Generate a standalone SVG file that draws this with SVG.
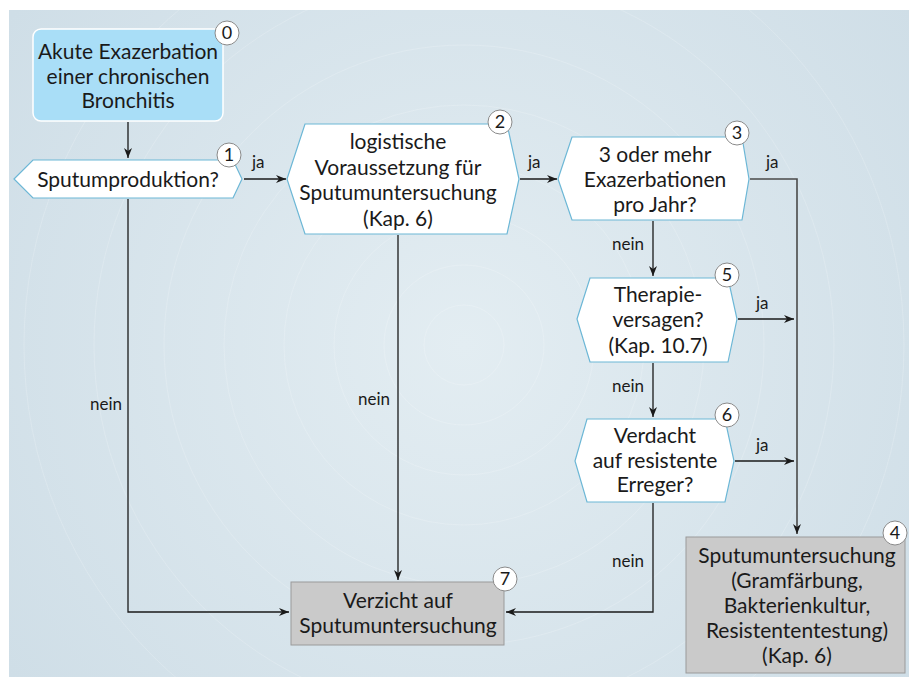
<svg xmlns="http://www.w3.org/2000/svg" width="909" height="677" viewBox="0 0 909 677">
<defs>
<radialGradient id="bg" cx="464" cy="345" r="560" gradientUnits="userSpaceOnUse">
<stop offset="0" stop-color="#e3edf2"/>
<stop offset="1" stop-color="#cfdee7"/>
</radialGradient>
<marker id="ah" viewBox="0 0 10 10" refX="10" refY="5" markerWidth="10" markerHeight="10" markerUnits="userSpaceOnUse" orient="auto">
<path d="M0,1 L10,5 L0,9 L3,5 Z" fill="#1a1a1a"/>
</marker>
</defs>
<style>
text{font-family:Lato,"Liberation Sans",sans-serif;fill:#1a1a1a;}
.t{font-size:21px;text-anchor:middle;}
.l{font-size:17px;}
.b{font-size:18px;text-anchor:middle;}
.hex{fill:#ffffff;stroke:#6cb7d6;stroke-width:1.2;}
.grey{fill:#cacaca;stroke:#9a9a9a;stroke-width:1;}
.badge{fill:#ffffff;stroke:#8a8a8a;stroke-width:1;}
.c{fill:none;stroke:#1a1a1a;stroke-width:1.3;}
.ring{fill:none;stroke:#ffffff;stroke-opacity:0.18;stroke-width:1;}
</style>
<rect x="0" y="0" width="909" height="677" fill="#ffffff"/>
<rect x="9" y="10" width="900" height="667" fill="url(#bg)"/>
<g>
<circle class="ring" cx="464" cy="345" r="40"/>
<circle class="ring" cx="464" cy="345" r="80"/>
<circle class="ring" cx="464" cy="345" r="130"/>
<circle class="ring" cx="464" cy="345" r="180"/>
<circle class="ring" cx="464" cy="345" r="240"/>
<circle class="ring" cx="464" cy="345" r="300"/>
<circle class="ring" cx="464" cy="345" r="370"/>
<circle class="ring" cx="464" cy="345" r="440"/>
</g>
<g id="connectors">
<line class="c" x1="128" y1="122" x2="128" y2="158" marker-end="url(#ah)"/>
<line class="c" x1="244" y1="179" x2="286" y2="179" marker-end="url(#ah)"/>
<line class="c" x1="520" y1="179" x2="557" y2="179" marker-end="url(#ah)"/>
<polyline class="c" points="750,179 797,179 797,534" style="stroke:#4a4a4a;stroke-width:1.6" marker-end="url(#ah)"/>
<line class="c" x1="653" y1="221" x2="653" y2="276" marker-end="url(#ah)"/>
<line class="c" x1="738" y1="319" x2="794" y2="319" marker-end="url(#ah)"/>
<line class="c" x1="653" y1="363" x2="653" y2="417" marker-end="url(#ah)"/>
<line class="c" x1="735" y1="461" x2="794" y2="461" marker-end="url(#ah)"/>
<polyline class="c" points="653,503 653,612 506,612" marker-end="url(#ah)"/>
<polyline class="c" points="128,199 128,612 289,612" marker-end="url(#ah)"/>
<line class="c" x1="398" y1="235" x2="398" y2="580" marker-end="url(#ah)"/>
<text class="l" x="252" y="168">ja</text>
<text class="l" x="528" y="168">ja</text>
<text class="l" x="766" y="168">ja</text>
<text class="l" x="756" y="309">ja</text>
<text class="l" x="756" y="451">ja</text>
<text class="l" x="612" y="250">nein</text>
<text class="l" x="612" y="392">nein</text>
<text class="l" x="612" y="567">nein</text>
<text class="l" x="90" y="410">nein</text>
<text class="l" x="358" y="405">nein</text>
</g>
<g id="n0">
<rect x="33" y="29" width="190" height="92" rx="8" fill="#a9def7" stroke="#ffffff" stroke-width="1.5"/>
<text class="t" x="128" y="59">Akute Exazerbation</text>
<text class="t" x="128" y="84">einer chronischen</text>
<text class="t" x="128" y="108">Bronchitis</text>
<circle class="badge" cx="227" cy="33" r="12"/>
<text class="b" x="227" y="39">0</text>
</g>
<g id="n1">
<polygon class="hex" points="14,179 33,160 233,160 242,179 233,198 33,198"/>
<text class="t" x="128" y="187">Sputumproduktion?</text>
<circle class="badge" cx="229" cy="155" r="12"/>
<text class="b" x="229" y="161">1</text>
</g>
<g id="n2">
<polygon class="hex" points="287,179 305,124 507,124 519,179 507,234 305,234"/>
<text class="t" x="398" y="149">logistische</text>
<text class="t" x="398" y="175">Voraussetzung für</text>
<text class="t" x="398" y="200">Sputumuntersuchung</text>
<text class="t" x="398" y="226">(Kap. 6)</text>
<circle class="badge" cx="500" cy="122" r="12"/>
<text class="b" x="500" y="128">2</text>
</g>
<g id="n3">
<polygon class="hex" points="558,179 572,137 742,137 749,179 742,220 572,220"/>
<text class="t" x="655" y="162">3 oder mehr</text>
<text class="t" x="655" y="187">Exazerbationen</text>
<text class="t" x="655" y="212">pro Jahr?</text>
<circle class="badge" cx="737" cy="133" r="12"/>
<text class="b" x="737" y="139">3</text>
</g>
<g id="n5">
<polygon class="hex" points="577,319 590,278 728,278 737,319 728,362 590,362"/>
<text class="t" x="658" y="302">Therapie-</text>
<text class="t" x="658" y="327">versagen?</text>
<text class="t" x="658" y="353">(Kap. 10.7)</text>
<circle class="badge" cx="727" cy="275" r="12"/>
<text class="b" x="727" y="281">5</text>
</g>
<g id="n6">
<polygon class="hex" points="575,461 587,419 725,419 734,461 725,502 587,502"/>
<text class="t" x="655" y="443">Verdacht</text>
<text class="t" x="655" y="468">auf resistente</text>
<text class="t" x="655" y="492">Erreger?</text>
<circle class="badge" cx="727" cy="415" r="12"/>
<text class="b" x="727" y="421">6</text>
</g>
<g id="n7">
<rect class="grey" x="291" y="582" width="213" height="63"/>
<text class="t" x="398" y="608">Verzicht auf</text>
<text class="t" x="398" y="633">Sputumuntersuchung</text>
<circle class="badge" cx="505" cy="579" r="12"/>
<text class="b" x="505" y="585">7</text>
</g>
<g id="n4">
<rect class="grey" x="686" y="537" width="219" height="136"/>
<text class="t" x="797" y="563">Sputumuntersuchung</text>
<text class="t" x="797" y="588">(Gramfärbung,</text>
<text class="t" x="797" y="613">Bakterienkultur,</text>
<text class="t" x="797" y="638">Resistententestung)</text>
<text class="t" x="797" y="663">(Kap. 6)</text>
<circle class="badge" cx="895" cy="533" r="12"/>
<text class="b" x="895" y="539">4</text>
</g>
</svg>
